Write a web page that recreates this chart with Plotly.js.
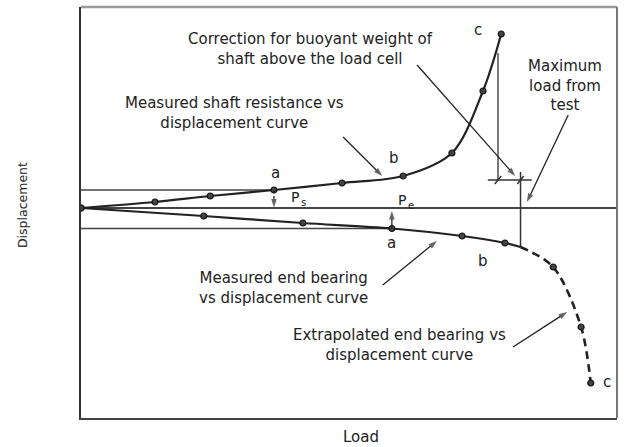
<!DOCTYPE html>
<html>
<head>
<meta charset="utf-8">
<script src="https://cdn.plot.ly/plotly-3.0.1.min.js"></script>
<style>html,body{margin:0;padding:0;background:#fff;}#chart{width:624px;height:447px;}</style>
</head>
<body>
<div id="chart"></div>
<script>
// Measured shaft resistance vs displacement (upward = negative displacement)
var shaftLoad = [0, 13.8, 24.1, 36.0, 48.7, 60.1, 69.2, 75.0, 78.4];
var shaftDisp = [0, -0.6, -1.2, -1.8, -2.5, -3.2, -5.5, -11.7, -17.4];
// Measured end bearing vs displacement
var ebLoad = [0, 22.9, 41.4, 58.0, 71.1, 79.1];
var ebDisp = [0, 0.8, 1.5, 2.05, 2.8, 3.5];
// Maximum load from test and end-bearing displacement there
var maxLoad = 82.0;
var ebAtMax = 3.9;
// Extrapolated end bearing
var exLoad = [88.1, 93.3, 95.1];
var exDisp = [5.9, 11.9, 17.5];
// Buoyant-weight correction
var corrLoad = 77.8;
var corrDisp = -2.8;
var corrTop = -15.5;
var maxTop = -3.6;

var ink = '#222';
var fnt = {family: 'DejaVu Sans', size: 15, color: '#222'};

var traces = [
  // reference (-s) and (+s) lines
  {x: [0, shaftLoad[3]], y: [shaftDisp[3], shaftDisp[3]], mode: 'lines', line: {color: '#444', width: 1.5}},
  {x: [0, ebLoad[3]], y: [ebDisp[3], ebDisp[3]], mode: 'lines', line: {color: '#444', width: 1.5}},
  // max load vertical
  {x: [maxLoad, maxLoad], y: [maxTop, ebAtMax], mode: 'lines', line: {color: '#333', width: 1.5}},
  // correction lines
  {x: [corrLoad, corrLoad], y: [corrTop, corrDisp], mode: 'lines', line: {color: '#333', width: 1.3}},
  {x: [corrLoad - 1.9, maxLoad + 2.1], y: [corrDisp, corrDisp], mode: 'lines', line: {color: '#333', width: 1.3}},
  {x: [corrLoad - 0.6, corrLoad + 0.6], y: [corrDisp + 0.4, corrDisp - 0.4], mode: 'lines', line: {color: '#333', width: 1.5}},
  {x: [maxLoad - 0.6, maxLoad + 0.6], y: [corrDisp + 0.4, corrDisp - 0.4], mode: 'lines', line: {color: '#333', width: 1.5}},
  // shaft curve
  {x: shaftLoad, y: shaftDisp, mode: 'lines+markers', line: {color: ink, width: 2.2, shape: 'spline', smoothing: 0.9},
   marker: {size: 6, color: '#444', line: {color: '#111', width: 1.2}}},
  // end bearing measured
  {x: ebLoad.concat([maxLoad]), y: ebDisp.concat([ebAtMax]), mode: 'lines', line: {color: ink, width: 2.2, shape: 'spline', smoothing: 0.9}},
  {x: ebLoad, y: ebDisp, mode: 'markers', marker: {size: 6, color: '#444', line: {color: '#111', width: 1.2}}},
  // extrapolated
  {x: [maxLoad].concat(exLoad), y: [ebAtMax].concat(exDisp), mode: 'lines', line: {color: ink, width: 2.6, dash: '8px,5px', shape: 'spline', smoothing: 0.9}},
  {x: exLoad, y: exDisp, mode: 'markers', marker: {size: 6, color: '#444', line: {color: '#111', width: 1.2}}}
];

// leader arrows: [tailX, tailY, headX, headY, dashed]
var arrows = [
  [48.9, -7.1, 56.2, -3.2, false],
  [62.7, -14.3, 81.0, -3.2, false],
  [90.9, -9.3, 83.2, -0.6, false],
  [56.3, 7.7, 66.4, 3.3, false],
  [80.6, 13.9, 90.7, 10.4, false],
  [shaftLoad[3], shaftDisp[3], shaftLoad[3], -0.05, true],
  [ebLoad[3], ebDisp[3], ebLoad[3], 0.3, false]
];
arrows.forEach(function (a) {
  traces.push({x: [a[0], a[2]], y: [a[1], a[3]], mode: 'lines+markers',
    line: {color: '#222', width: 1.3, dash: a[4] ? 'dot' : 'solid'},
    marker: {symbol: 'arrow', angleref: 'previous', size: [0, 9], color: '#222', line: {width: 0}}});
});

function txt(t, x, y, extra) {
  var a = {text: t, x: x, y: y, xref: 'x', yref: 'y', showarrow: false, font: fnt, align: 'center'};
  for (var k in extra) a[k] = extra[k];
  return a;
}
var subFont = {family: 'DejaVu Sans', size: 10, color: '#222'};

var annotations = [
  txt('Correction for buoyant weight of<br>shaft above the load cell', 42.9, -15.9),
  txt('Measured shaft resistance vs<br>displacement curve', 28.7, -9.5),
  txt('Maximum<br>load from<br>test', 90.3, -12.3),
  txt('Measured end bearing<br>vs displacement curve', 37.7, 7.95),
  txt('Extrapolated end bearing vs<br>displacement curve', 59.5, 13.7),
  txt('a', 36.2, -3.5), txt('b', 58.4, -5.0), txt('c', 74.1, -17.8),
  txt('a', 58.0, 3.5), txt('b', 75.0, 5.3), txt('c', 98.1, 17.4),
  txt('P', 39.9, -1.1, {font: {family: 'DejaVu Sans', size: 14, color: '#222'}}),
  txt('s', 41.5, -0.55, {font: subFont}),
  txt('P', 59.9, -0.8, {font: {family: 'DejaVu Sans', size: 14, color: '#222'}}),
  txt('e', 61.6, -0.3, {font: subFont}),
  txt('(-s)', -0.5, shaftDisp[3], {xanchor: 'right'}),
  txt('(+s)', -0.5, ebDisp[3], {xanchor: 'right'}),
  {text: 'Displacement', xref: 'paper', yref: 'y', x: -0.11, y: -0.3, xanchor: 'center', showarrow: false, textangle: -90,
   font: {family: 'DejaVu Sans', size: 12.5, color: '#222'}},
  {text: 'Load', xref: 'x', yref: 'paper', x: 52.2, y: -0.046, yanchor: 'middle', showarrow: false, font: fnt}
];

var layout = {
  width: 624, height: 447,
  margin: {l: 81, r: 7, t: 7, b: 29},
  paper_bgcolor: '#fff', plot_bgcolor: '#fff',
  showlegend: false,
  xaxis: {range: [0, 100], showgrid: false, zeroline: false, showticklabels: false, ticks: '',
          showline: true, linecolor: '#444', linewidth: 2},
  yaxis: {range: [21.0, -20.1], showgrid: false, zeroline: true, zerolinecolor: '#444', zerolinewidth: 1.5,
          showticklabels: false, ticks: '', showline: true, linecolor: '#333', linewidth: 2},
  shapes: [
    {type: 'line', xref: 'paper', yref: 'paper', x0: 0, x1: 1, y0: 1, y1: 1, line: {color: '#999', width: 2.5}},
    {type: 'line', xref: 'paper', yref: 'paper', x0: 1, x1: 1, y0: 0, y1: 1, line: {color: '#777', width: 2}}
  ],
  annotations: annotations
};

Plotly.newPlot('chart', traces, layout, {displayModeBar: false, staticPlot: true});
</script>
</body>
</html>
